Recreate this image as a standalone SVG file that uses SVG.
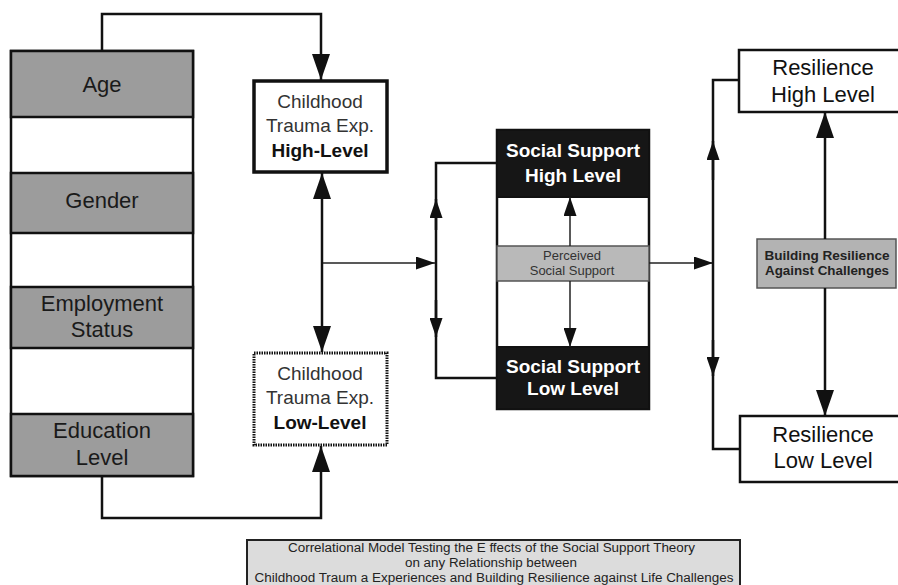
<svg xmlns="http://www.w3.org/2000/svg" width="898" height="585" viewBox="0 0 898 585">
<style>
text{font-family:"Liberation Sans",Arial,sans-serif;text-anchor:middle}
.lt{font-size:22px;fill:#1a1a1a}
.ct{font-size:19px;fill:#333}
.cb{font-size:19px;font-weight:bold;fill:#111}
.ss{font-size:19px;font-weight:bold;fill:#fff}
.rt{font-size:22px;fill:#111}
.sm{font-size:13px;fill:#333}
.smb{font-size:12.5px;font-weight:bold;fill:#222}
.cap{font-size:12.5px;fill:#222}
.gray{fill:#9c9c9c;stroke:#111;stroke-width:2.5}
.white{fill:#fff;stroke:#111;stroke-width:2.5}
.blk{fill:#161616;stroke:#111;stroke-width:2}
.ln{fill:none;stroke:#111;stroke-width:2.5}
.thin{fill:none;stroke:#222;stroke-width:1.5}
</style>
<defs>
<marker id="big" markerUnits="userSpaceOnUse" markerWidth="26" markerHeight="18" refX="26" refY="9" orient="auto"><path d="M0,0 L26,9 L0,18 z" fill="#111"/></marker>
<marker id="sml" markerUnits="userSpaceOnUse" markerWidth="19" markerHeight="13" refX="19" refY="6.5" orient="auto"><path d="M0,0 L19,6.5 L0,13 z" fill="#111"/></marker>
</defs>

<g id="demographics">
<rect class="white" x="11" y="51" width="182" height="425"/>
<rect class="gray" x="11" y="51" width="182" height="66"/>
<rect class="gray" x="11" y="173" width="182" height="60"/>
<rect class="gray" x="11" y="287" width="182" height="61"/>
<rect class="gray" x="11" y="414" width="182" height="62"/>
<text class="lt" x="102" y="92">Age</text>
<text class="lt" x="102" y="208">Gender</text>
<text class="lt" x="102" y="311">Employment</text>
<text class="lt" x="102" y="337">Status</text>
<text class="lt" x="102" y="438">Education</text>
<text class="lt" x="102" y="465">Level</text>
</g>

<g id="trauma-high">
<rect x="254" y="81" width="133" height="91" fill="#fff" stroke="#111" stroke-width="3.5"/>
<text class="ct" x="320" y="108">Childhood</text>
<text class="ct" x="320" y="132">Trauma Exp.</text>
<text class="cb" x="320" y="157">High-Level</text>
</g>

<g id="trauma-low">
<rect x="254" y="353" width="133" height="92" fill="#fff" stroke="#111" stroke-width="3" stroke-dasharray="1.5 1"/>
<text class="ct" x="320" y="380">Childhood</text>
<text class="ct" x="320" y="404">Trauma Exp.</text>
<text class="cb" x="320" y="429">Low-Level</text>
</g>

<g id="social-support">
<rect class="white" x="497" y="130" width="152" height="279" stroke-width="2"/>
<rect class="blk" x="497" y="130" width="152" height="67"/>
<rect x="497" y="246" width="152" height="35" fill="#b9b9b9" stroke="#555" stroke-width="1.5"/>
<rect class="blk" x="497" y="347" width="152" height="62"/>
<text class="ss" x="573" y="157">Social Support</text>
<text class="ss" x="573" y="182">High Level</text>
<text class="sm" x="572" y="260">Perceived</text>
<text class="sm" x="572" y="275">Social Support</text>
<text class="ss" x="573" y="373">Social Support</text>
<text class="ss" x="573" y="395">Low Level</text>
</g>

<g id="resilience-high">
<rect class="white" x="739" y="50" width="170" height="62" stroke-width="2"/>
<text class="rt" x="823" y="75">Resilience</text>
<text class="rt" x="823" y="102">High Level</text>
</g>

<g id="building">
<rect x="757" y="239" width="139" height="49" fill="#b3b3b3" stroke="#555" stroke-width="1.5"/>
<text class="smb" x="827" y="260" textLength="125" lengthAdjust="spacingAndGlyphs">Building Resilience</text>
<text class="smb" x="827" y="275" textLength="124" lengthAdjust="spacingAndGlyphs">Against Challenges</text>
</g>

<g id="resilience-low">
<rect class="white" x="740" y="416" width="170" height="66" stroke-width="2"/>
<text class="rt" x="823" y="442">Resilience</text>
<text class="rt" x="823" y="468">Low Level</text>
</g>

<g id="caption">
<rect x="247" y="540" width="493" height="55" fill="#dcdcdc" stroke="#222" stroke-width="2"/>
<text class="cap" x="491.5" y="552" textLength="407" lengthAdjust="spacingAndGlyphs">Correlational Model Testing the E ffects of the Social Support Theory</text>
<text class="cap" x="491" y="567" textLength="172" lengthAdjust="spacingAndGlyphs">on any Relationship between</text>
<text class="cap" x="494" y="582" textLength="479" lengthAdjust="spacingAndGlyphs">Childhood Traum a Experiences and Building Resilience against Life Challenges</text>
</g>

<g id="connectors">
<path class="ln" d="M102,51 V14 H321 V80" marker-end="url(#big)"/>
<path class="ln" d="M102,476 V518 H321 V446" marker-end="url(#big)"/>
<path class="ln" d="M322,263 V173" marker-end="url(#big)"/>
<path class="ln" d="M322,263 V352" marker-end="url(#big)"/>
<path class="thin" d="M323,263 H435" marker-end="url(#sml)"/>
<path class="ln" d="M497,163 H436 V378 H497" stroke-width="2"/>
<path class="ln" d="M436,230 V199" stroke-width="2" marker-end="url(#sml)"/>
<path class="ln" d="M436,300 V337" stroke-width="2" marker-end="url(#sml)"/>
<path class="thin" d="M570,246 V197" marker-end="url(#sml)"/>
<path class="thin" d="M570,281 V347" marker-end="url(#sml)"/>
<path class="thin" d="M649,263 H713" marker-end="url(#sml)"/>
<path class="ln" d="M739,80 H713 V449 H740" stroke-width="2"/>
<path class="ln" d="M713,180 V141" stroke-width="2" marker-end="url(#sml)"/>
<path class="ln" d="M713,340 V376" stroke-width="2" marker-end="url(#sml)"/>
<path class="ln" d="M825,239 V112" marker-end="url(#big)"/>
<path class="ln" d="M825,288 V416" marker-end="url(#big)"/>
</g>
</svg>
